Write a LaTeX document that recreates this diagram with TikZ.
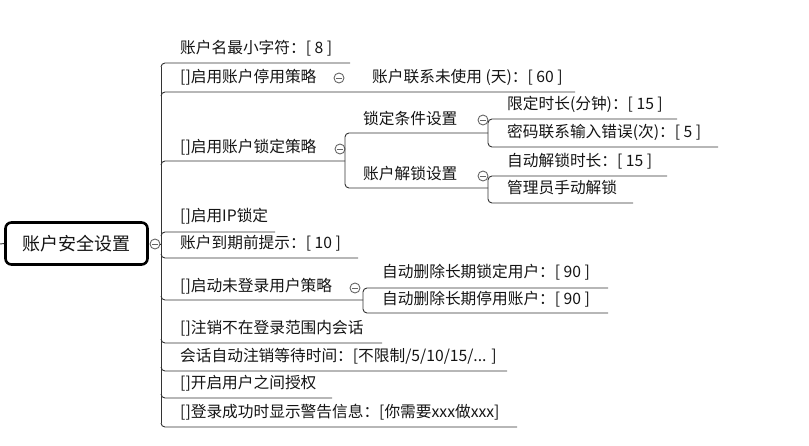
\documentclass[tikz,border=0pt]{standalone}
\usepackage{fontspec}
\setmainfont{Noto Sans CJK SC}
\begin{document}
\begin{tikzpicture}[x=1pt,y=-1pt,
  txt/.style={anchor=west, inner sep=0pt, font=\fontsize{15.7}{18}\selectfont, text=black!92},
  ln/.style={draw=black!80, line width=0.9pt},
  tog/.style={circle, draw=black!60, fill=white, minimum size=10pt, inner sep=0pt, line width=0.9pt,
    path picture={\draw[black!60,line width=0.8pt] ([xshift=-2.6pt]path picture bounding box.center) -- ([xshift=2.6pt]path picture bounding box.center);}}
]
\useasboundingbox (0,0) rectangle (809,445);
% root
\node[draw=black, line width=2.6pt, rounded corners=6pt, minimum width=142pt, minimum height=42pt,
      inner sep=0pt, font=\fontsize{18}{20}\selectfont, text=black!92] (root) at (76.5,243.5) {账户安全设置};
\coordinate (lstub) at (0,244);
\draw[ln] (lstub) -- (root.west);
\node[tog] (rc) at (155,244) {};
\coordinate (tr) at (161,244);
\draw[ln] (rc.east) -- (tr);
% trunk
\coordinate (ttop) at (161,67);
\coordinate (tbot) at (161,423);
\draw[ln] (ttop) -- (tbot);
% level-1 texts
\node[txt] (c1) at (180,48) {账户名最小字符：[ 8 ]};
\node[txt] (c2) at (180,77) {[]启用账户停用策略};
\node[txt] (c3) at (180,147) {[]启用账户锁定策略};
\node[txt] (c4) at (180,216) {[]启用IP锁定};
\node[txt] (c5) at (180,243) {账户到期前提示：[ 10 ]};
\node[txt] (c6) at (180,286) {[]启动未登录用户策略};
\node[txt] (c7) at (180,328) {[]注销不在登录范围内会话};
\node[txt] (c8) at (180,356) {会话自动注销等待时间：[不限制/5/10/15/... ]};
\node[txt] (c9) at (180,383) {[]开启用户之间授权};
\node[txt] (c10) at (180,412) {[]登录成功时显示警告信息：[你需要xxx做xxx]};
% level-1 underlines (above root: curl up, below: curl down)
\draw[ln] (161,67) to[out=90,in=180] (165,63) -- (350,63);
\draw[ln] (161,96) to[out=90,in=180] (165,92) -- (575,92);
\draw[ln] (161,165) to[out=90,in=180] (165,161) -- (345,161);
\draw[ln] (161,236) to[out=90,in=180] (165,232) -- (275,232);
\draw[ln] (161,254) to[out=-90,in=180] (165,258) -- (358,258);
\draw[ln] (161,296) to[out=-90,in=180] (165,300) -- (363,300);
\draw[ln] (161,339) to[out=-90,in=180] (165,343) -- (382,343);
\draw[ln] (161,367) to[out=-90,in=180] (165,371) -- (507,371);
\draw[ln] (161,394) to[out=-90,in=180] (165,398) -- (332,398);
\draw[ln] (161,423) to[out=-90,in=180] (165,427) -- (517,427);
% toggles
\node[tog] (t2) at (339,78) {};
\node[tog] (t3) at (340,149) {};
\node[tog] (t6) at (355,288) {};
% child of c2
\node[txt] (g2) at (372,77) {账户联系未使用 (天)：[ 60 ]};
% children of c3
\draw[ln, rounded corners=4pt] (488,133) -| (345,188) -- (488,188);
\node[txt] (g31) at (363,118) {锁定条件设置};
\node[txt] (g32) at (363,174) {账户解锁设置};
\node[tog] (t31) at (483,120) {};
\node[tog] (t32) at (483,176) {};
\draw[ln, rounded corners=4pt] (677,119) -| (488,147) -- (718,147);
\draw[ln, rounded corners=4pt] (667,176) -| (488,203) -- (633,203);
\node[txt] (g311) at (507,104) {限定时长(分钟)：[ 15 ]};
\node[txt] (g312) at (507,132) {密码联系输入错误(次)：[ 5 ]};
\node[txt] (g321) at (507,161) {自动解锁时长：[ 15 ]};
\node[txt] (g322) at (507,188) {管理员手动解锁};
% children of c6
\draw[ln, rounded corners=4pt] (608,288) -| (363,313) -- (608,313);
\node[txt] (g61) at (382,272) {自动删除长期锁定用户：[ 90 ]};
\node[txt] (g62) at (382,299) {自动删除长期停用账户：[ 90 ]};
\end{tikzpicture}
\end{document}
